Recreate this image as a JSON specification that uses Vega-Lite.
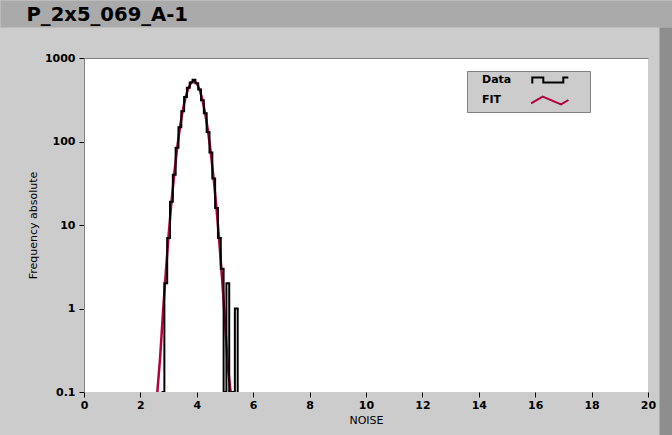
{
  "$schema": "https://vega.github.io/schema/vega-lite/v6.json",
  "width": 564,
  "height": 334,
  "autosize": {"type": "none"},
  "padding": {"left": 84, "top": 58, "right": 24, "bottom": 43},
  "background": "#CCCCCC",
  "view": {"fill": "#FFFFFF", "stroke": null},
  "config": {
    "font": "DejaVu Sans",
    "axis": {"labelColor": "#000000", "titleColor": "#000000", "labelFont": "DejaVu Sans", "titleFont": "DejaVu Sans"}
  },
  "datasets": {
    "fit": [
      {"noise": 2.6, "frequency": 0.069, "series": "FIT"},
      {"noise": 2.7, "frequency": 0.26, "series": "FIT"},
      {"noise": 2.8, "frequency": 0.89, "series": "FIT"},
      {"noise": 2.9, "frequency": 2.7, "series": "FIT"},
      {"noise": 3.0, "frequency": 7.5, "series": "FIT"},
      {"noise": 3.1, "frequency": 18.5, "series": "FIT"},
      {"noise": 3.2, "frequency": 41, "series": "FIT"},
      {"noise": 3.3, "frequency": 82, "series": "FIT"},
      {"noise": 3.4, "frequency": 146, "series": "FIT"},
      {"noise": 3.5, "frequency": 234, "series": "FIT"},
      {"noise": 3.6, "frequency": 337, "series": "FIT"},
      {"noise": 3.7, "frequency": 436, "series": "FIT"},
      {"noise": 3.8, "frequency": 507, "series": "FIT"},
      {"noise": 3.9, "frequency": 530, "series": "FIT"},
      {"noise": 4.0, "frequency": 497, "series": "FIT"},
      {"noise": 4.1, "frequency": 418, "series": "FIT"},
      {"noise": 4.2, "frequency": 316, "series": "FIT"},
      {"noise": 4.3, "frequency": 215, "series": "FIT"},
      {"noise": 4.4, "frequency": 131, "series": "FIT"},
      {"noise": 4.5, "frequency": 72, "series": "FIT"},
      {"noise": 4.6, "frequency": 35, "series": "FIT"},
      {"noise": 4.7, "frequency": 15.6, "series": "FIT"},
      {"noise": 4.8, "frequency": 6.2, "series": "FIT"},
      {"noise": 4.9, "frequency": 2.2, "series": "FIT"},
      {"noise": 5.0, "frequency": 0.7, "series": "FIT"},
      {"noise": 5.1, "frequency": 0.2, "series": "FIT"},
      {"noise": 5.2, "frequency": 0.052, "series": "FIT"}
    ],
    "hist": [
      {"noise": 2.75, "frequency": 0, "series": "Data"},
      {"noise": 2.85, "frequency": 2, "series": "Data"},
      {"noise": 2.95, "frequency": 7, "series": "Data"},
      {"noise": 3.05, "frequency": 19, "series": "Data"},
      {"noise": 3.15, "frequency": 40, "series": "Data"},
      {"noise": 3.25, "frequency": 84, "series": "Data"},
      {"noise": 3.35, "frequency": 148, "series": "Data"},
      {"noise": 3.45, "frequency": 230, "series": "Data"},
      {"noise": 3.55, "frequency": 340, "series": "Data"},
      {"noise": 3.65, "frequency": 440, "series": "Data"},
      {"noise": 3.75, "frequency": 510, "series": "Data"},
      {"noise": 3.85, "frequency": 548, "series": "Data"},
      {"noise": 3.95, "frequency": 500, "series": "Data"},
      {"noise": 4.05, "frequency": 420, "series": "Data"},
      {"noise": 4.15, "frequency": 312, "series": "Data"},
      {"noise": 4.25, "frequency": 218, "series": "Data"},
      {"noise": 4.35, "frequency": 130, "series": "Data"},
      {"noise": 4.45, "frequency": 74, "series": "Data"},
      {"noise": 4.55, "frequency": 36, "series": "Data"},
      {"noise": 4.65, "frequency": 16, "series": "Data"},
      {"noise": 4.75, "frequency": 7, "series": "Data"},
      {"noise": 4.85, "frequency": 3, "series": "Data"},
      {"noise": 4.95, "frequency": 0, "series": "Data"},
      {"noise": 5.05, "frequency": 2, "series": "Data"},
      {"noise": 5.15, "frequency": 0, "series": "Data"},
      {"noise": 5.25, "frequency": 0, "series": "Data"},
      {"noise": 5.35, "frequency": 1, "series": "Data"},
      {"noise": 5.45, "frequency": 0, "series": "Data"}
    ]
  },
  "layer": [
    {
      "data": {"name": "fit"},
      "mark": {"type": "line", "strokeWidth": 2.5, "clip": true},
      "encoding": {
        "x": {
          "field": "noise",
          "type": "quantitative",
          "scale": {"domain": [0, 20], "nice": false, "zero": false},
          "axis": {
            "orient": "bottom",
            "values": [0, 2, 4, 6, 8, 10, 12, 14, 16, 18, 20],
            "title": "NOISE",
            "titleFontSize": 11,
            "titleFontWeight": "normal",
            "titlePadding": 4,
            "labelFontSize": 11,
            "labelFontWeight": "bold",
            "labelPadding": 2,
            "labelFlush": false,
            "labelOverlap": false,
            "tickSize": 5,
            "tickColor": "#000000",
            "domain": false,
            "grid": false
          }
        },
        "y": {
          "field": "frequency",
          "type": "quantitative",
          "scale": {"type": "log", "domain": [0.1, 1000], "clamp": true, "nice": false},
          "axis": {
            "orient": "left",
            "values": [0.1, 1, 10, 100, 1000],
            "format": "~g",
            "title": "Frequency absolute",
            "titleFontSize": 11,
            "titleFontWeight": "normal",
            "titlePadding": 6,
            "labelFontSize": 11,
            "labelFontWeight": "bold",
            "labelPadding": 4,
            "labelFlush": false,
            "labelOverlap": false,
            "tickSize": 5,
            "tickColor": "#000000",
            "domainColor": "#808080",
            "grid": true,
            "gridColor": "#808080",
            "gridOpacity": {"condition": {"test": "datum.value >= 999", "value": 1}, "value": 0}
          }
        },
        "color": {
          "field": "series",
          "type": "nominal",
          "scale": {"domain": ["Data", "FIT"], "range": ["#000000", "#B4003C"]},
          "legend": {
            "orient": "none",
            "legendX": 383,
            "legendY": 13,
            "title": null,
            "fillColor": "#CCCCCC",
            "strokeColor": "#808080",
            "padding": 3,
            "rowPadding": 5,
            "labelFont": "DejaVu Sans",
            "labelFontSize": 11,
            "labelFontWeight": "bold",
            "labelColor": "#000000",
            "symbolSize": 100,
            "symbolStrokeWidth": 2,
            "symbolFillColor": "transparent",
            "labelOffset": 0,
            "symbolOffset": 0,
            "symbolType": "M-1.6,0M21.4,0M11.06,0.5L11.26,0.5L11.26,-0.5L13.46,-0.5L13.46,0.5L17.46,0.5L17.46,-0.5L18.46,-0.5",
            "encode": {
              "symbols": {
                "update": {
                  "fill": {"value": "transparent"},
                  "strokeWidth": {"value": 2},
                  "shape": {"signal": "datum.value === 'FIT' ? 'M-1.6,0M21.4,0M11.02,0.66L13.34,-0.66L17.02,0.86L18.48,0' : 'M-1.6,0M21.4,0M11.06,0.5L11.26,0.5L11.26,-0.5L13.46,-0.5L13.46,0.5L17.46,0.5L17.46,-0.5L18.46,-0.5'"}
                }
              }
            }
          }
        }
      }
    },
    {
      "data": {"name": "hist"},
      "mark": {"type": "line", "interpolate": "step-after", "strokeWidth": 2, "clip": true, "invalid": "show"},
      "encoding": {
        "x": {
          "field": "noise",
          "type": "quantitative",
          "scale": {"domain": [0, 20], "nice": false, "zero": false},
          "axis": {
            "orient": "top",
            "values": [8.936],
            "labels": false,
            "domain": false,
            "grid": false,
            "ticks": true,
            "tickSize": 27,
            "tickWidth": 672,
            "tickColor": "#AAAAAA",
            "tickRound": false,
            "offset": 31,
            "title": "P_2x5_069_A-1",
            "titleX": -58,
            "titleY": -7,
            "titleAlign": "left",
            "titleAnchor": null,
            "titleBaseline": "alphabetic",
            "titleAngle": 0,
            "titleFont": "DejaVu Sans",
            "titleFontSize": 19.6,
            "titleFontWeight": "bold",
            "titleColor": "#000000"
          }
        },
        "y": {
          "field": "frequency",
          "type": "quantitative",
          "scale": {"type": "log", "domain": [0.1, 1000], "clamp": true, "nice": false},
          "axis": {
            "orient": "right",
            "values": [8.47],
            "labels": false,
            "domain": false,
            "grid": false,
            "ticks": true,
            "tickSize": 13,
            "tickWidth": 408,
            "tickColor": "#8E8E8E",
            "tickRound": false,
            "offset": 11,
            "title": null
          }
        },
        "color": {"field": "series", "type": "nominal", "scale": {"domain": ["Data", "FIT"], "range": ["#000000", "#B4003C"]}}
      }
    }
  ],
  "resolve": {"axis": {"x": "independent", "y": "independent"}}
}
